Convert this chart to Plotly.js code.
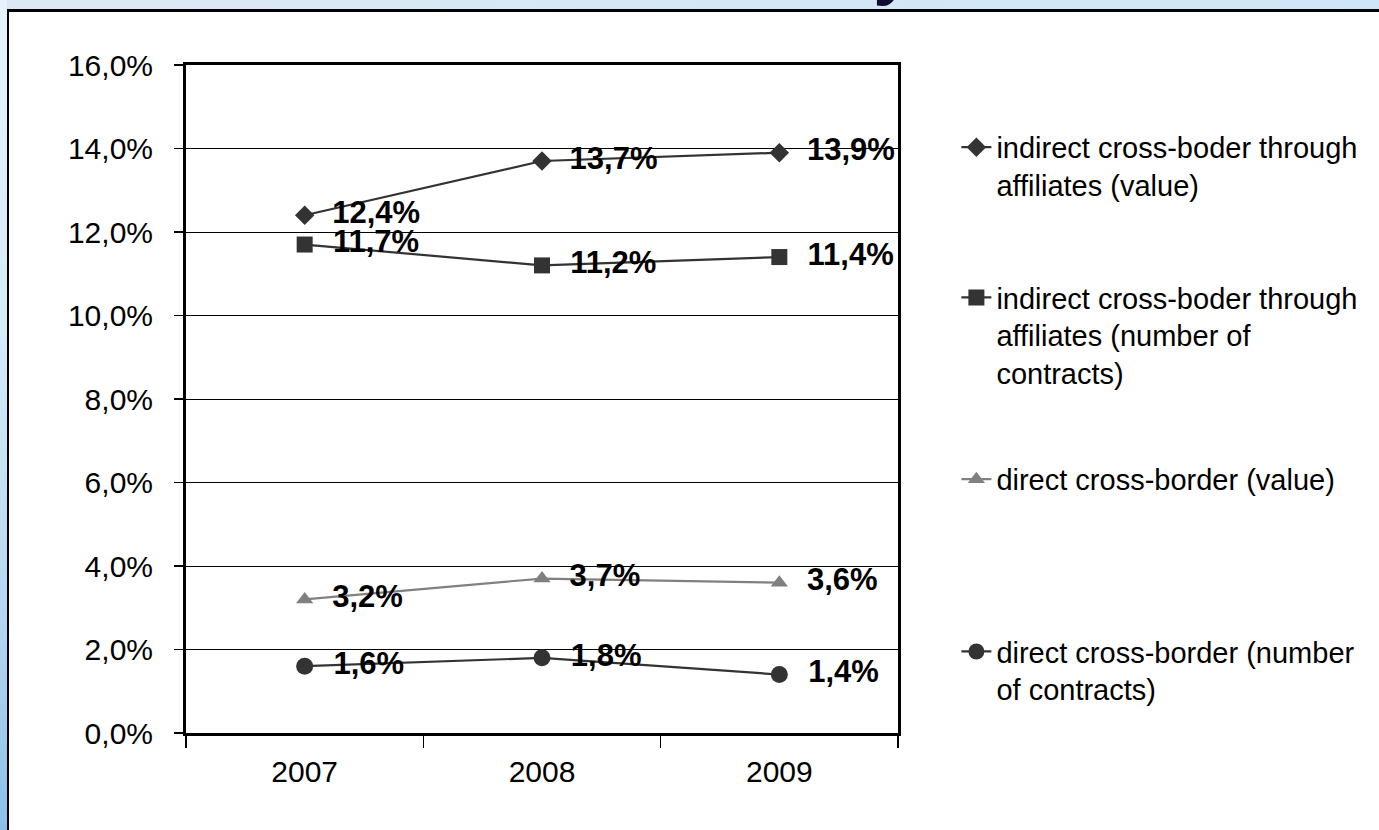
<!DOCTYPE html>
<html>
<head>
<meta charset="utf-8">
<script src="https://cdn.plot.ly/plotly-3.0.1.min.js"></script>
<style>
  html, body { margin:0; padding:0; overflow:hidden; }
  #wrap { position:relative; width:1379px; height:830px; background: linear-gradient(to right, #dce9f4, #d3e7f6 60%, #cfe6f8); }
  #strip { position:absolute; left:0; top:0; width:7px; height:830px; background: linear-gradient(to bottom, #e6f3fc 0%, #d6eaf8 40%, #b4d6f0 75%, #8cbfe8 100%); }
  #frame { position:absolute; left:7px; top:9px; right:0; bottom:0; background:#ffffff; border-left:2px solid #000; border-top:3px solid #000; }
  #chart { position:absolute; left:0; top:0; width:1379px; height:830px; }
</style>
</head>
<body>
<div id="wrap">
  <div id="strip"></div>
  <div id="frame"></div>
  <div id="chart"></div>
</div>
<script>
const years = ['2007', '2008', '2009'];
const indirectValue = [12.4, 13.7, 13.9];
const indirectContracts = [11.7, 11.2, 11.4];
const directValue = [3.2, 3.7, 3.6];
const directContracts = [1.6, 1.8, 1.4];
const seriesNames = [
  'indirect cross-boder through<br>affiliates (value)',
  'indirect cross-boder through<br>affiliates (number of<br>contracts)',
  'direct cross-border (value)',
  'direct cross-border (number<br>of contracts)'
];
const yTickVals = [0, 2, 4, 6, 8, 10, 12, 14, 16];
const yTickLabels = ['0,0%', '2,0%', '4,0%', '6,0%', '8,0%', '10,0%', '12,0%', '14,0%', '16,0%'];

const labelFont = {family: 'Liberation Sans, Arial, sans-serif', size: 31, color: '#000'};
function mk(y, name, sym, size, color, legend) {
  return {
    type: 'scatter', mode: 'lines+markers+text',
    x: years, y: y, name: name, legend: legend,
    line: {color: color, width: 2.2},
    marker: {symbol: sym, size: size, color: color},
    texttemplate: '\u00a0\u00a0%{y:.1f}%', textposition: 'middle right',
    textfont: Object.assign({}, labelFont, {weight: 'bold'}),
    cliponaxis: false, hoverinfo: 'skip'
  };
}
const traces = [
  mk(indirectValue, seriesNames[0], 'diamond', 15, '#333333', 'legend'),
  mk(indirectContracts, seriesNames[1], 'square', 16, '#333333', 'legend2'),
  mk(directValue, seriesNames[2], 'triangle-up', 15, '#808080', 'legend3'),
  mk(directContracts, seriesNames[3], 'circle', 17, '#333333', 'legend4')
];
const tickFont = {family: 'Liberation Sans, Arial, sans-serif', size: 30, color: '#000'};
const legFont = {family: 'Liberation Sans, Arial, sans-serif', size: 29, color: '#000'};
function leg(y) {
  return {x: 1.082, xanchor: 'left', y: y, yanchor: 'top', bgcolor: 'rgba(0,0,0,0)',
          font: legFont, valign: 'top', itemclick: false, itemdoubleclick: false};
}
const layout = {
  width: 1379, height: 830,
  margin: {l: 186, r: 481, t: 65, b: 97},
  paper_bgcolor: 'rgba(0,0,0,0)', plot_bgcolor: 'rgba(0,0,0,0)',
  separators: ',.',
  showlegend: true,
  xaxis: {
    type: 'category', range: [-0.5, 2.5], tickson: 'boundaries',
    ticks: 'outside', ticklen: 12, tickwidth: 1.5, tickcolor: '#000',
    showline: true, linewidth: 3, linecolor: '#000', mirror: true,
    showgrid: false, tickfont: tickFont, ticklabelstandoff: 10, fixedrange: true
  },
  yaxis: {
    range: [0, 16], tickvals: yTickVals, ticktext: yTickLabels,
    ticks: 'outside', ticklen: 9, tickwidth: 1.2, tickcolor: '#000',
    showline: true, linewidth: 3, linecolor: '#000', mirror: true,
    showgrid: true, gridcolor: '#000', gridwidth: 1, zeroline: false,
    tickfont: tickFont, ticklabelstandoff: 15, fixedrange: true
  },
  legend: leg(0.915),
  legend2: leg(0.690),
  legend3: leg(0.418),
  legend4: leg(0.160),
  annotations: [{
    text: 'y', xref: 'paper', yref: 'paper', x: 0.998, y: 1.086, xanchor: 'center', yanchor: 'bottom',
    showarrow: false, font: {family: 'Liberation Sans, Arial, sans-serif', size: 90, color: '#0e0e30'}
  }]
};
Plotly.newPlot('chart', traces, layout, {displayModeBar: false, staticPlot: true});
</script>
</body>
</html>
